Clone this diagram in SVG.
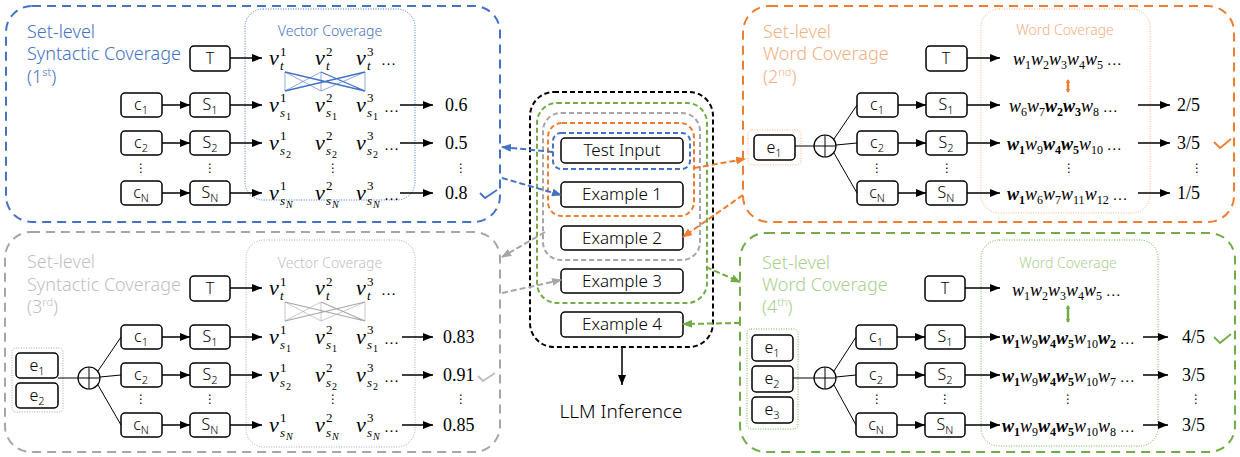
<svg xmlns="http://www.w3.org/2000/svg" width="1240" height="457" viewBox="0 0 1240 457">
<style>
.pnl{fill:none;stroke-width:2;stroke-dasharray:9 6}
.cb{fill:none;stroke-width:2;stroke-dasharray:5 3}
.dot{fill:none;stroke-width:1;stroke-dasharray:1 1.5}
.nb{fill:#fff;stroke:#000;stroke-width:1.5}
.t{font-family:"Noto Sans","Liberation Sans",sans-serif;font-weight:300}
.title{font-family:"Noto Sans","Liberation Sans",sans-serif;font-weight:300;font-size:18px}
.lab{font-family:"Noto Sans","Liberation Sans",sans-serif;font-weight:300;font-size:14px;text-anchor:middle}
.nt{font-family:"Noto Sans","Liberation Sans",sans-serif;font-weight:300;font-size:16px;text-anchor:middle;fill:#000}
.ct{font-family:"Noto Sans","Liberation Sans",sans-serif;font-weight:300;font-size:17px;text-anchor:middle;fill:#000}
.v{font-family:"Liberation Serif",serif;font-style:italic;font-size:22px;fill:#000}
.sp{font-size:13px;font-style:normal}
.sb{font-size:13px}
.ssb{font-size:10px;font-style:normal}
.ssbi{font-size:10px}
.el{font-family:"Liberation Serif",serif;font-size:15px;fill:#000}
.w{font-family:"Liberation Serif",serif;font-style:italic;font-size:18px;fill:#000}
.ws{font-size:12px;font-style:normal}
.b{font-weight:bold}
.en{font-style:normal;font-size:15px}
.num{font-family:"Liberation Serif",serif;font-size:18px;fill:#000}
.vd{font-family:"DejaVu Sans",sans-serif;font-size:12px;text-anchor:middle;fill:#000}
.a{stroke:#000;stroke-width:1.5;fill:none;marker-end:url(#ak)}
.ln{stroke:#000;stroke-width:1;fill:none}
.dc{fill:none;stroke-width:2;stroke-dasharray:6 3}
</style>
<defs>
<marker id="ak" markerUnits="userSpaceOnUse" markerWidth="10" markerHeight="8" refX="10" refY="4" orient="auto"><path d="M0,0 L10,4 L0,8 z" fill="#000"/></marker>
<marker id="ab" markerUnits="userSpaceOnUse" markerWidth="10" markerHeight="8" refX="9" refY="4" orient="auto"><path d="M0,0 L10,4 L0,8 z" fill="#4472C4"/></marker>
<marker id="ao" markerUnits="userSpaceOnUse" markerWidth="10" markerHeight="8" refX="9" refY="4" orient="auto"><path d="M0,0 L10,4 L0,8 z" fill="#ED7D31"/></marker>
<marker id="ag" markerUnits="userSpaceOnUse" markerWidth="10" markerHeight="8" refX="9" refY="4" orient="auto"><path d="M0,0 L10,4 L0,8 z" fill="#A6A6A6"/></marker>
<marker id="an" markerUnits="userSpaceOnUse" markerWidth="10" markerHeight="8" refX="9" refY="4" orient="auto"><path d="M0,0 L10,4 L0,8 z" fill="#70AD47"/></marker>
<marker id="so" markerUnits="userSpaceOnUse" markerWidth="4" markerHeight="4" refX="3" refY="2" orient="auto-start-reverse"><path d="M0,0 L4,2 L0,4 z" fill="#ED7D31"/></marker>
<marker id="sn" markerUnits="userSpaceOnUse" markerWidth="4" markerHeight="4" refX="3" refY="2" orient="auto-start-reverse"><path d="M0,0 L4,2 L0,4 z" fill="#70AD47"/></marker>
</defs>
<rect width="1240" height="457" fill="#fff"/>

<!-- ===== Panel 1 (blue, top-left) ===== -->
<g id="panel1">
<rect class="pnl" x="6" y="6" width="494" height="216" rx="26" stroke="#4472C4"/>
<text class="title" fill="#4472C4"><tspan x="27" y="38">Set-level</tspan><tspan x="27" y="60">Syntactic Coverage</tspan></text>
<text class="title" fill="#4472C4" x="27" y="83">(1<tspan font-size="11" dy="-7">st</tspan><tspan dy="7">)</tspan></text>
<g id="p1-vec">
<rect class="dot" x="245" y="9" width="170" height="191" rx="18" stroke="#4472C4"/>
<text class="lab" x="330" y="36" fill="#4472C4">Vector Coverage</text>
<g stroke="#4472C4" fill="none">
<path stroke-width="1.3" d="M285,72 L365,91 M365,72 L285,91 M321,72 L365,91"/>
<path stroke-width="0.6" d="M285,72 L285,91 M365,72 L365,91 M321,72 L285,91 M321,72 L321,91 M285,72 L321,91 M365,72 L321,91"/>
</g>
<text class="v"><tspan x="269" y="65">v</tspan><tspan class="sp" x="280" y="56">1</tspan><tspan class="sb" x="280" y="70">t</tspan></text>
<text class="v"><tspan x="315" y="65">v</tspan><tspan class="sp" x="326" y="56">2</tspan><tspan class="sb" x="326" y="70">t</tspan></text>
<text class="v"><tspan x="356" y="65">v</tspan><tspan class="sp" x="367" y="56">3</tspan><tspan class="sb" x="367" y="70">t</tspan></text>
<text class="el" x="381" y="65">…</text>
<text class="v"><tspan x="269" y="112">v</tspan><tspan class="sp" x="280" y="102">1</tspan><tspan class="sb" x="280" y="117">s</tspan><tspan class="ssb" x="286" y="120">1</tspan></text>
<text class="v"><tspan x="315" y="112">v</tspan><tspan class="sp" x="326" y="102">2</tspan><tspan class="sb" x="326" y="117">s</tspan><tspan class="ssb" x="332" y="120">1</tspan></text>
<text class="v"><tspan x="356" y="112">v</tspan><tspan class="sp" x="367" y="102">3</tspan><tspan class="sb" x="367" y="117">s</tspan><tspan class="ssb" x="373" y="120">1</tspan></text>
<text class="el" x="384" y="112">…</text>
<text class="v"><tspan x="269" y="150">v</tspan><tspan class="sp" x="280" y="140">1</tspan><tspan class="sb" x="280" y="155">s</tspan><tspan class="ssb" x="286" y="158">2</tspan></text>
<text class="v"><tspan x="315" y="150">v</tspan><tspan class="sp" x="326" y="140">2</tspan><tspan class="sb" x="326" y="155">s</tspan><tspan class="ssb" x="332" y="158">2</tspan></text>
<text class="v"><tspan x="356" y="150">v</tspan><tspan class="sp" x="367" y="140">3</tspan><tspan class="sb" x="367" y="155">s</tspan><tspan class="ssb" x="373" y="158">2</tspan></text>
<text class="el" x="384" y="150">…</text>
<text class="vd" x="333" y="172">⋮</text>
<text class="v"><tspan x="269" y="200">v</tspan><tspan class="sp" x="280" y="190">1</tspan><tspan class="sb" x="280" y="205">s</tspan><tspan class="ssbi" x="286" y="208">N</tspan></text>
<text class="v"><tspan x="315" y="200">v</tspan><tspan class="sp" x="326" y="190">2</tspan><tspan class="sb" x="326" y="205">s</tspan><tspan class="ssbi" x="332" y="208">N</tspan></text>
<text class="v"><tspan x="356" y="200">v</tspan><tspan class="sp" x="367" y="190">3</tspan><tspan class="sb" x="367" y="205">s</tspan><tspan class="ssbi" x="373" y="208">N</tspan></text>
<text class="el" x="384" y="200">…</text>
</g>
<g id="p1-T"><rect class="nb" x="190" y="46" width="40" height="25" rx="4"/><text class="nt" x="210" y="64">T</text></g>
<g id="p1-c1"><rect class="nb" x="121" y="93" width="41" height="24" rx="4"/><text class="nt" x="141" y="110">c<tspan font-size="11" dy="4">1</tspan></text></g>
<g id="p1-S1"><rect class="nb" x="190" y="93" width="40" height="24" rx="4"/><text class="nt" x="210" y="110">S<tspan font-size="11" dy="4">1</tspan></text></g>
<g id="p1-c2"><rect class="nb" x="121" y="131" width="41" height="24" rx="4"/><text class="nt" x="141" y="148">c<tspan font-size="11" dy="4">2</tspan></text></g>
<g id="p1-S2"><rect class="nb" x="190" y="131" width="40" height="24" rx="4"/><text class="nt" x="210" y="148">S<tspan font-size="11" dy="4">2</tspan></text></g>
<g id="p1-cN"><rect class="nb" x="121" y="181" width="41" height="24" rx="4"/><text class="nt" x="141" y="198">c<tspan font-size="11" dy="4">N</tspan></text></g>
<g id="p1-SN"><rect class="nb" x="190" y="181" width="40" height="24" rx="4"/><text class="nt" x="210" y="198">S<tspan font-size="11" dy="4">N</tspan></text></g>
<text class="vd" x="141" y="172">⋮</text>
<text class="vd" x="210" y="172">⋮</text>
<g id="p1-scores">
<text class="num" x="445" y="111">0.6</text>
<text class="num" x="445" y="149">0.5</text>
<text class="vd" x="461" y="172">⋮</text>
<text class="num" x="445" y="199">0.8</text>
<polyline points="480,193 485,198 497,190" fill="none" stroke="#4472C4" stroke-width="1.8"/>
</g>
</g>

<!-- ===== Panel 2 (orange, top-right) ===== -->
<g id="panel2">
<rect class="pnl" x="743" y="6" width="491" height="216" rx="26" stroke="#ED7D31"/>
<text class="title" fill="#F4B183"><tspan x="763" y="38">Set-level</tspan><tspan x="763" y="60">Word Coverage</tspan></text>
<text class="title" fill="#F4B183" x="763" y="83">(2<tspan font-size="11" dy="-7">nd</tspan><tspan dy="7">)</tspan></text>
<g id="p2-word">
<rect class="dot" x="981" y="9" width="169" height="204" rx="18" stroke="#F4B183"/>
<text class="lab" x="1065" y="35" fill="#F4B183">Word Coverage</text>
<text class="w" x="1013" y="65"><tspan>w</tspan><tspan class="ws" dy="4">1</tspan><tspan dy="-4">w</tspan><tspan class="ws" dy="4">2</tspan><tspan dy="-4">w</tspan><tspan class="ws" dy="4">3</tspan><tspan dy="-4">w</tspan><tspan class="ws" dy="4">4</tspan><tspan dy="-4">w</tspan><tspan class="ws" dy="4">5</tspan><tspan class="en" dy="-4"> …</tspan></text>
<line x1="1068" y1="80" x2="1068" y2="92" stroke="#ED7D31" stroke-width="2.5" marker-start="url(#so)" marker-end="url(#so)"/>
<text class="w" x="1009" y="112"><tspan>w</tspan><tspan class="ws" dy="4">6</tspan><tspan dy="-4">w</tspan><tspan class="ws" dy="4">7</tspan><tspan class="b" dy="-4">w</tspan><tspan class="ws b" dy="4">2</tspan><tspan class="b" dy="-4">w</tspan><tspan class="ws b" dy="4">3</tspan><tspan dy="-4">w</tspan><tspan class="ws" dy="4">8</tspan><tspan class="en" dy="-4"> …</tspan></text>
<text class="w" x="1007" y="150"><tspan class="b">w</tspan><tspan class="ws b" dy="4">1</tspan><tspan dy="-4">w</tspan><tspan class="ws" dy="4">9</tspan><tspan class="b" dy="-4">w</tspan><tspan class="ws b" dy="4">4</tspan><tspan class="b" dy="-4">w</tspan><tspan class="ws b" dy="4">5</tspan><tspan dy="-4">w</tspan><tspan class="ws" dy="4">10</tspan><tspan class="en" dy="-4"> …</tspan></text>
<text class="vd" x="1069" y="172">⋮</text>
<text class="w" x="1007" y="200"><tspan class="b">w</tspan><tspan class="ws b" dy="4">1</tspan><tspan dy="-4">w</tspan><tspan class="ws" dy="4">6</tspan><tspan dy="-4">w</tspan><tspan class="ws" dy="4">7</tspan><tspan dy="-4">w</tspan><tspan class="ws" dy="4">11</tspan><tspan dy="-4">w</tspan><tspan class="ws" dy="4">12</tspan><tspan class="en" dy="-4"> …</tspan></text>
</g>
<g id="p2-e"><rect class="dot" x="748" y="130" width="53" height="35" rx="4" stroke="#F4B183"/><rect class="nb" x="754" y="135" width="41" height="25" rx="4"/><text class="nt" x="774" y="153">e<tspan font-size="11" dy="4">1</tspan></text></g>
<g id="p2-plus"><circle cx="825" cy="146" r="11" fill="#fff" stroke="#000" stroke-width="1.2"/><path d="M814,146 H836 M825,135 V157" stroke="#000" stroke-width="1"/></g>
<g id="p2-T"><rect class="nb" x="926" y="46" width="41" height="25" rx="4"/><text class="nt" x="946" y="64">T</text></g>
<g id="p2-c1"><rect class="nb" x="857" y="93" width="41" height="24" rx="4"/><text class="nt" x="877" y="110">c<tspan font-size="11" dy="4">1</tspan></text></g>
<g id="p2-S1"><rect class="nb" x="926" y="93" width="41" height="24" rx="4"/><text class="nt" x="946" y="110">S<tspan font-size="11" dy="4">1</tspan></text></g>
<g id="p2-c2"><rect class="nb" x="857" y="131" width="41" height="24" rx="4"/><text class="nt" x="877" y="148">c<tspan font-size="11" dy="4">2</tspan></text></g>
<g id="p2-S2"><rect class="nb" x="926" y="131" width="41" height="24" rx="4"/><text class="nt" x="946" y="148">S<tspan font-size="11" dy="4">2</tspan></text></g>
<g id="p2-cN"><rect class="nb" x="857" y="181" width="41" height="24" rx="4"/><text class="nt" x="877" y="198">c<tspan font-size="11" dy="4">N</tspan></text></g>
<g id="p2-SN"><rect class="nb" x="926" y="181" width="41" height="24" rx="4"/><text class="nt" x="946" y="198">S<tspan font-size="11" dy="4">N</tspan></text></g>
<text class="vd" x="877" y="172">⋮</text>
<text class="vd" x="947" y="172">⋮</text>
<g id="p2-scores">
<text class="num" x="1177" y="111">2/5</text>
<text class="num" x="1177" y="149">3/5</text>
<text class="vd" x="1197" y="172">⋮</text>
<text class="num" x="1177" y="199">1/5</text>
<polyline points="1214,142 1220,148 1231,139" fill="none" stroke="#ED7D31" stroke-width="1.8"/>
</g>
</g>

<!-- ===== Panel 3 (gray, bottom-left) ===== -->
<g id="panel3">
<rect class="pnl" x="5" y="232" width="495" height="220" rx="26" stroke="#A6A6A6"/>
<text class="title" fill="#BFBFBF"><tspan x="27" y="268">Set-level</tspan><tspan x="27" y="291">Syntactic Coverage</tspan></text>
<text class="title" fill="#BFBFBF" x="27" y="313">(3<tspan font-size="11" dy="-7">rd</tspan><tspan dy="7">)</tspan></text>
<g id="p3-vec">
<rect class="dot" x="246" y="240" width="169" height="207" rx="18" stroke="#A6A6A6"/>
<text class="lab" x="330" y="268" fill="#BFBFBF">Vector Coverage</text>
<g stroke="#A6A6A6" fill="none">
<path stroke-width="1.1" d="M285,302 L365,321 M365,302 L285,321 M321,302 L365,321"/>
<path stroke-width="0.6" d="M285,302 L285,321 M365,302 L365,321 M321,302 L285,321 M321,302 L321,321 M285,302 L321,321 M365,302 L321,321"/>
</g>
<text class="v"><tspan x="269" y="295">v</tspan><tspan class="sp" x="280" y="286">1</tspan><tspan class="sb" x="280" y="300">t</tspan></text>
<text class="v"><tspan x="315" y="295">v</tspan><tspan class="sp" x="326" y="286">2</tspan><tspan class="sb" x="326" y="300">t</tspan></text>
<text class="v"><tspan x="356" y="295">v</tspan><tspan class="sp" x="367" y="286">3</tspan><tspan class="sb" x="367" y="300">t</tspan></text>
<text class="el" x="381" y="295">…</text>
<text class="v"><tspan x="269" y="344">v</tspan><tspan class="sp" x="280" y="334">1</tspan><tspan class="sb" x="280" y="349">s</tspan><tspan class="ssb" x="286" y="352">1</tspan></text>
<text class="v"><tspan x="315" y="344">v</tspan><tspan class="sp" x="326" y="334">2</tspan><tspan class="sb" x="326" y="349">s</tspan><tspan class="ssb" x="332" y="352">1</tspan></text>
<text class="v"><tspan x="356" y="344">v</tspan><tspan class="sp" x="367" y="334">3</tspan><tspan class="sb" x="367" y="349">s</tspan><tspan class="ssb" x="373" y="352">1</tspan></text>
<text class="el" x="384" y="344">…</text>
<text class="v"><tspan x="269" y="382">v</tspan><tspan class="sp" x="280" y="372">1</tspan><tspan class="sb" x="280" y="387">s</tspan><tspan class="ssb" x="286" y="390">2</tspan></text>
<text class="v"><tspan x="315" y="382">v</tspan><tspan class="sp" x="326" y="372">2</tspan><tspan class="sb" x="326" y="387">s</tspan><tspan class="ssb" x="332" y="390">2</tspan></text>
<text class="v"><tspan x="356" y="382">v</tspan><tspan class="sp" x="367" y="372">3</tspan><tspan class="sb" x="367" y="387">s</tspan><tspan class="ssb" x="373" y="390">2</tspan></text>
<text class="el" x="384" y="382">…</text>
<text class="vd" x="333" y="403">⋮</text>
<text class="v"><tspan x="269" y="432">v</tspan><tspan class="sp" x="280" y="422">1</tspan><tspan class="sb" x="280" y="437">s</tspan><tspan class="ssbi" x="286" y="440">N</tspan></text>
<text class="v"><tspan x="315" y="432">v</tspan><tspan class="sp" x="326" y="422">2</tspan><tspan class="sb" x="326" y="437">s</tspan><tspan class="ssbi" x="332" y="440">N</tspan></text>
<text class="v"><tspan x="356" y="432">v</tspan><tspan class="sp" x="367" y="422">3</tspan><tspan class="sb" x="367" y="437">s</tspan><tspan class="ssbi" x="373" y="440">N</tspan></text>
<text class="el" x="384" y="432">…</text>
</g>
<g id="p3-e"><rect class="dot" x="12" y="348" width="51" height="64" rx="4" stroke="#A6A6A6"/>
<rect class="nb" x="16" y="353" width="42" height="25" rx="4"/><text class="nt" x="37" y="371">e<tspan font-size="11" dy="4">1</tspan></text>
<rect class="nb" x="16" y="383" width="42" height="25" rx="4"/><text class="nt" x="37" y="401">e<tspan font-size="11" dy="4">2</tspan></text></g>
<g id="p3-plus"><circle cx="89" cy="378" r="11" fill="#fff" stroke="#000" stroke-width="1.2"/><path d="M78,378 H100 M89,367 V389" stroke="#000" stroke-width="1"/></g>
<g id="p3-T"><rect class="nb" x="190" y="276" width="40" height="25" rx="4"/><text class="nt" x="210" y="294">T</text></g>
<g id="p3-c1"><rect class="nb" x="121" y="325" width="41" height="24" rx="4"/><text class="nt" x="141" y="342">c<tspan font-size="11" dy="4">1</tspan></text></g>
<g id="p3-S1"><rect class="nb" x="190" y="325" width="40" height="24" rx="4"/><text class="nt" x="210" y="342">S<tspan font-size="11" dy="4">1</tspan></text></g>
<g id="p3-c2"><rect class="nb" x="121" y="363" width="41" height="24" rx="4"/><text class="nt" x="141" y="380">c<tspan font-size="11" dy="4">2</tspan></text></g>
<g id="p3-S2"><rect class="nb" x="190" y="363" width="40" height="24" rx="4"/><text class="nt" x="210" y="380">S<tspan font-size="11" dy="4">2</tspan></text></g>
<g id="p3-cN"><rect class="nb" x="121" y="413" width="41" height="24" rx="4"/><text class="nt" x="141" y="430">c<tspan font-size="11" dy="4">N</tspan></text></g>
<g id="p3-SN"><rect class="nb" x="190" y="413" width="40" height="24" rx="4"/><text class="nt" x="210" y="430">S<tspan font-size="11" dy="4">N</tspan></text></g>
<text class="vd" x="141" y="403">⋮</text>
<text class="vd" x="210" y="403">⋮</text>
<g id="p3-scores">
<text class="num" x="443" y="343">0.83</text>
<text class="num" x="443" y="381">0.91</text>
<text class="vd" x="461" y="403">⋮</text>
<text class="num" x="443" y="431">0.85</text>
<polyline points="478,376 483,381 495,373" fill="none" stroke="#BFBFBF" stroke-width="1.8"/>
</g>
</g>

<!-- ===== Panel 4 (green, bottom-right) ===== -->
<g id="panel4">
<rect class="pnl" x="740" y="233" width="495" height="219" rx="26" stroke="#70AD47"/>
<text class="title" fill="#A9D18E"><tspan x="762" y="269">Set-level</tspan><tspan x="762" y="291">Word Coverage</tspan></text>
<text class="title" fill="#A9D18E" x="762" y="313">(4<tspan font-size="11" dy="-7">th</tspan><tspan dy="7">)</tspan></text>
<g id="p4-word">
<rect class="dot" x="981" y="240" width="177" height="206" rx="18" stroke="#70AD47"/>
<text class="lab" x="1068" y="268" fill="#A9D18E">Word Coverage</text>
<text class="w" x="1012" y="296"><tspan>w</tspan><tspan class="ws" dy="4">1</tspan><tspan dy="-4">w</tspan><tspan class="ws" dy="4">2</tspan><tspan dy="-4">w</tspan><tspan class="ws" dy="4">3</tspan><tspan dy="-4">w</tspan><tspan class="ws" dy="4">4</tspan><tspan dy="-4">w</tspan><tspan class="ws" dy="4">5</tspan><tspan class="en" dy="-4"> …</tspan></text>
<line x1="1068" y1="306" x2="1068" y2="322" stroke="#70AD47" stroke-width="2.5" marker-start="url(#sn)" marker-end="url(#sn)"/>
<text class="w" x="1002" y="344"><tspan class="b">w</tspan><tspan class="ws b" dy="4">1</tspan><tspan dy="-4">w</tspan><tspan class="ws" dy="4">9</tspan><tspan class="b" dy="-4">w</tspan><tspan class="ws b" dy="4">4</tspan><tspan class="b" dy="-4">w</tspan><tspan class="ws b" dy="4">5</tspan><tspan dy="-4">w</tspan><tspan class="ws" dy="4">10</tspan><tspan class="b" dy="-4">w</tspan><tspan class="ws b" dy="4">2</tspan><tspan class="en" dy="-4"> …</tspan></text>
<text class="w" x="1002" y="382"><tspan class="b">w</tspan><tspan class="ws b" dy="4">1</tspan><tspan dy="-4">w</tspan><tspan class="ws" dy="4">9</tspan><tspan class="b" dy="-4">w</tspan><tspan class="ws b" dy="4">4</tspan><tspan class="b" dy="-4">w</tspan><tspan class="ws b" dy="4">5</tspan><tspan dy="-4">w</tspan><tspan class="ws" dy="4">10</tspan><tspan dy="-4">w</tspan><tspan class="ws" dy="4">7</tspan><tspan class="en" dy="-4"> …</tspan></text>
<text class="vd" x="1068" y="403">⋮</text>
<text class="w" x="1002" y="432"><tspan class="b">w</tspan><tspan class="ws b" dy="4">1</tspan><tspan dy="-4">w</tspan><tspan class="ws" dy="4">9</tspan><tspan class="b" dy="-4">w</tspan><tspan class="ws b" dy="4">4</tspan><tspan class="b" dy="-4">w</tspan><tspan class="ws b" dy="4">5</tspan><tspan dy="-4">w</tspan><tspan class="ws" dy="4">10</tspan><tspan dy="-4">w</tspan><tspan class="ws" dy="4">8</tspan><tspan class="en" dy="-4"> …</tspan></text>
</g>
<g id="p4-e"><rect class="dot" x="747" y="329" width="51" height="100" rx="4" stroke="#70AD47"/>
<rect class="nb" x="752" y="335" width="41" height="26" rx="4"/><text class="nt" x="772" y="353">e<tspan font-size="11" dy="4">1</tspan></text>
<rect class="nb" x="752" y="366" width="41" height="26" rx="4"/><text class="nt" x="772" y="384">e<tspan font-size="11" dy="4">2</tspan></text>
<rect class="nb" x="752" y="397" width="41" height="26" rx="4"/><text class="nt" x="772" y="415">e<tspan font-size="11" dy="4">3</tspan></text></g>
<g id="p4-plus"><circle cx="825" cy="378" r="11" fill="#fff" stroke="#000" stroke-width="1.2"/><path d="M814,378 H836 M825,367 V389" stroke="#000" stroke-width="1"/></g>
<g id="p4-T"><rect class="nb" x="925" y="276" width="40" height="25" rx="4"/><text class="nt" x="945" y="294">T</text></g>
<g id="p4-c1"><rect class="nb" x="856" y="325" width="41" height="24" rx="4"/><text class="nt" x="876" y="342">c<tspan font-size="11" dy="4">1</tspan></text></g>
<g id="p4-S1"><rect class="nb" x="925" y="325" width="40" height="24" rx="4"/><text class="nt" x="945" y="342">S<tspan font-size="11" dy="4">1</tspan></text></g>
<g id="p4-c2"><rect class="nb" x="856" y="363" width="41" height="24" rx="4"/><text class="nt" x="876" y="380">c<tspan font-size="11" dy="4">2</tspan></text></g>
<g id="p4-S2"><rect class="nb" x="925" y="363" width="40" height="24" rx="4"/><text class="nt" x="945" y="380">S<tspan font-size="11" dy="4">2</tspan></text></g>
<g id="p4-cN"><rect class="nb" x="856" y="413" width="41" height="24" rx="4"/><text class="nt" x="876" y="430">c<tspan font-size="11" dy="4">N</tspan></text></g>
<g id="p4-SN"><rect class="nb" x="925" y="413" width="40" height="24" rx="4"/><text class="nt" x="945" y="430">S<tspan font-size="11" dy="4">N</tspan></text></g>
<text class="vd" x="877" y="403">⋮</text>
<text class="vd" x="945" y="403">⋮</text>
<g id="p4-scores">
<text class="num" x="1182" y="343">4/5</text>
<text class="num" x="1182" y="381">3/5</text>
<text class="vd" x="1196" y="403">⋮</text>
<text class="num" x="1182" y="431">3/5</text>
<polyline points="1214,337 1220,343 1231,334" fill="none" stroke="#70AD47" stroke-width="1.8"/>
</g>
</g>

<!-- ===== Center ===== -->
<g id="center">
<rect class="cb" x="530" y="92" width="183" height="255" rx="24" stroke="#000"/>
<rect class="cb" x="537" y="103" width="170" height="200" rx="20" stroke="#70AD47"/>
<rect class="cb" x="543" y="113" width="157" height="147" rx="18" stroke="#A6A6A6"/>
<rect class="cb" x="548" y="123" width="146" height="93" rx="14" stroke="#ED7D31"/>
<rect class="cb" x="553" y="133" width="137" height="36" rx="8" stroke="#4472C4"/>
<g id="test-input"><rect class="nb" x="561" y="138" width="122" height="25" rx="4"/><text class="ct" x="622" y="156">Test Input</text></g>
<g id="example1"><rect class="nb" x="561" y="182" width="122" height="25" rx="4"/><text class="ct" x="622" y="200">Example 1</text></g>
<g id="example2"><rect class="nb" x="561" y="226" width="122" height="24" rx="4"/><text class="ct" x="622" y="244">Example 2</text></g>
<g id="example3"><rect class="nb" x="561" y="269" width="122" height="24" rx="4"/><text class="ct" x="622" y="287">Example 3</text></g>
<g id="example4"><rect class="nb" x="561" y="312" width="122" height="25" rx="4"/><text class="ct" x="622" y="330">Example 4</text></g>
<g id="llm"><text class="t" x="621" y="418" font-size="19" text-anchor="middle" fill="#000">LLM Inference</text></g>
</g>

<!-- ===== Connectors ===== -->
<g id="connectors">
<path class="a" d="M230,58 H262"/>
<path class="a" d="M162,105 H190"/><path class="a" d="M230,105 H262"/><path class="a" d="M400,105 H433"/>
<path class="a" d="M162,143 H190"/><path class="a" d="M230,143 H262"/><path class="a" d="M400,143 H433"/>
<path class="a" d="M162,193 H190"/><path class="a" d="M230,193 H262"/><path class="a" d="M400,193 H433"/>
<path class="ln" d="M795,146 H814"/>
<path class="ln" d="M834,139 L857,105 M836,145 L857,143 M834,153 L857,193"/>
<path class="a" d="M967,58 H1000"/>
<path class="a" d="M898,105 H926"/><path class="a" d="M967,105 H1000"/><path class="a" d="M1138,105 H1170"/>
<path class="a" d="M898,143 H926"/><path class="a" d="M967,143 H1000"/><path class="a" d="M1138,143 H1170"/>
<path class="a" d="M898,193 H926"/><path class="a" d="M967,193 H1000"/><path class="a" d="M1138,193 H1170"/>
<path class="ln" d="M58,378 H78"/>
<path class="ln" d="M98,371 L121,337 M100,377 L121,375 M98,385 L121,425"/>
<path class="a" d="M230,288 H262"/>
<path class="a" d="M162,337 H190"/><path class="a" d="M230,337 H262"/><path class="a" d="M402,337 H433"/>
<path class="a" d="M162,375 H190"/><path class="a" d="M230,375 H262"/><path class="a" d="M402,375 H433"/>
<path class="a" d="M162,425 H190"/><path class="a" d="M230,425 H262"/><path class="a" d="M402,425 H433"/>
<path class="ln" d="M793,378 H814"/>
<path class="ln" d="M834,371 L856,337 M836,377 L856,375 M834,385 L856,425"/>
<path class="a" d="M965,288 H1000"/>
<path class="a" d="M897,337 H925"/><path class="a" d="M965,337 H1000"/><path class="a" d="M1143,337 H1168"/>
<path class="a" d="M897,375 H925"/><path class="a" d="M965,375 H1000"/><path class="a" d="M1143,375 H1168"/>
<path class="a" d="M897,425 H925"/><path class="a" d="M965,425 H1000"/><path class="a" d="M1143,425 H1168"/>
<path class="dc" stroke="#4472C4" marker-end="url(#ab)" d="M553,152 L502,147"/>
<path class="dc" stroke="#4472C4" marker-end="url(#ab)" d="M502,178 L561,195"/>
<path class="dc" stroke="#ED7D31" marker-end="url(#ao)" d="M694,168 L745,159"/>
<path class="dc" stroke="#ED7D31" marker-end="url(#ao)" d="M743,195 L683,237"/>
<path class="dc" stroke="#A6A6A6" marker-end="url(#ag)" d="M545,232 L502,257"/>
<path class="dc" stroke="#A6A6A6" marker-end="url(#ag)" d="M502,293 L561,280"/>
<path class="dc" stroke="#70AD47" marker-end="url(#an)" d="M706,267 L740,282"/>
<path class="dc" stroke="#70AD47" marker-end="url(#an)" d="M740,323 L683,324"/>
<path class="a" stroke-width="2" d="M622,347 V385"/>
</g>
</svg>
